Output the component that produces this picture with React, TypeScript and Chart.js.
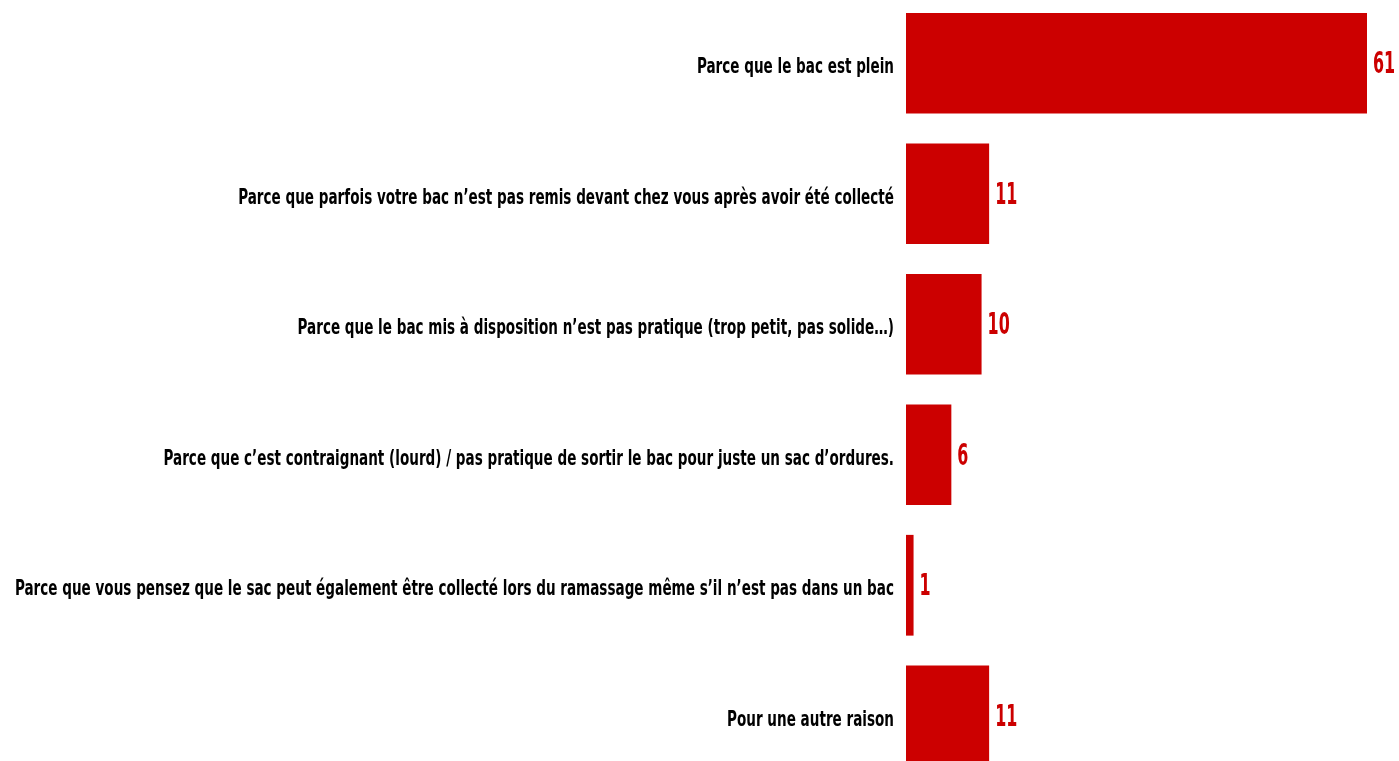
import React, { useEffect, useRef } from "react";
import { Chart, registerables } from "chart.js";

Chart.register(...registerables);

const categories = [
  "Parce que le bac est plein",
  "Parce que parfois votre bac n\u2019est pas remis devant chez vous après avoir été collecté",
  "Parce que le bac mis à disposition n\u2019est pas pratique (trop petit, pas solide\u2026)",
  "Parce que c\u2019est contraignant (lourd) / pas pratique de sortir le bac pour juste un sac d\u2019ordures.",
  "Parce que vous pensez que le sac peut également être collecté lors du ramassage même s\u2019il n\u2019est pas dans un bac",
  "Pour une autre raison",
];
const values = [61, 11, 10, 6, 1, 11];

const BAR_COLOR = "#CC0000";
const FONT = "'DejaVu Sans Condensed', 'Liberation Sans Narrow', sans-serif";

const textPlugin = {
  id: "textPlugin",
  afterDatasetsDraw(chart: any) {
    const ctx = chart.ctx;
    const meta = chart.getDatasetMeta(0);
    const yScale = chart.scales.y;
    const left = chart.chartArea.left;
    ctx.save();
    ctx.textBaseline = "alphabetic";
    // category labels
    ctx.fillStyle = "#000000";
    ctx.font = `bold 22px ${FONT}`;
    ctx.textAlign = "right";
    categories.forEach((label, i) => {
      const y = yScale.getPixelForValue(i);
      ctx.save();
      ctx.translate(left - 12, y + 10);
      ctx.scale(0.685, 1);
      ctx.fillText(label, 0, 0);
      ctx.restore();
    });
    // value labels
    ctx.fillStyle = BAR_COLOR;
    ctx.font = `bold 30px ${FONT}`;
    ctx.textAlign = "left";
    meta.data.forEach((bar: any, i: number) => {
      ctx.save();
      ctx.translate(bar.x + 6, bar.y + 10);
      ctx.scale(0.59, 1);
      ctx.fillText(String(values[i]), 0, 0);
      ctx.restore();
    });
    ctx.restore();
  },
};

export default function App() {
  const ref = useRef<HTMLCanvasElement | null>(null);
  useEffect(() => {
    if (!ref.current) return;
    const chart = new Chart(ref.current, {
      type: "bar",
      data: {
        labels: categories,
        datasets: [
          {
            data: values,
            backgroundColor: BAR_COLOR,
            borderWidth: 0,
            barPercentage: 0.772,
            categoryPercentage: 1,
          },
        ],
      },
      options: {
        indexAxis: "y",
        animation: false,
        responsive: false,
        maintainAspectRatio: false,
        layout: { padding: { left: 906, right: 32, top: 0, bottom: 0 } },
        plugins: { legend: { display: false }, tooltip: { enabled: false } },
        scales: {
          x: { min: 0, max: 61, display: false },
          y: { display: false },
        },
      },
      plugins: [textPlugin],
    });
    return () => chart.destroy();
  }, []);

  return (
    <div
      style={{
        position: "fixed",
        left: 0,
        top: 0,
        width: 1399,
        height: 761,
        overflow: "hidden",
        background: "#ffffff",
      }}
    >
      <div style={{ position: "absolute", left: 0, top: -2, width: 1399, height: 783 }}>
        <canvas ref={ref} width={1399} height={783} style={{ display: "block" }} />
      </div>
    </div>
  );
}
